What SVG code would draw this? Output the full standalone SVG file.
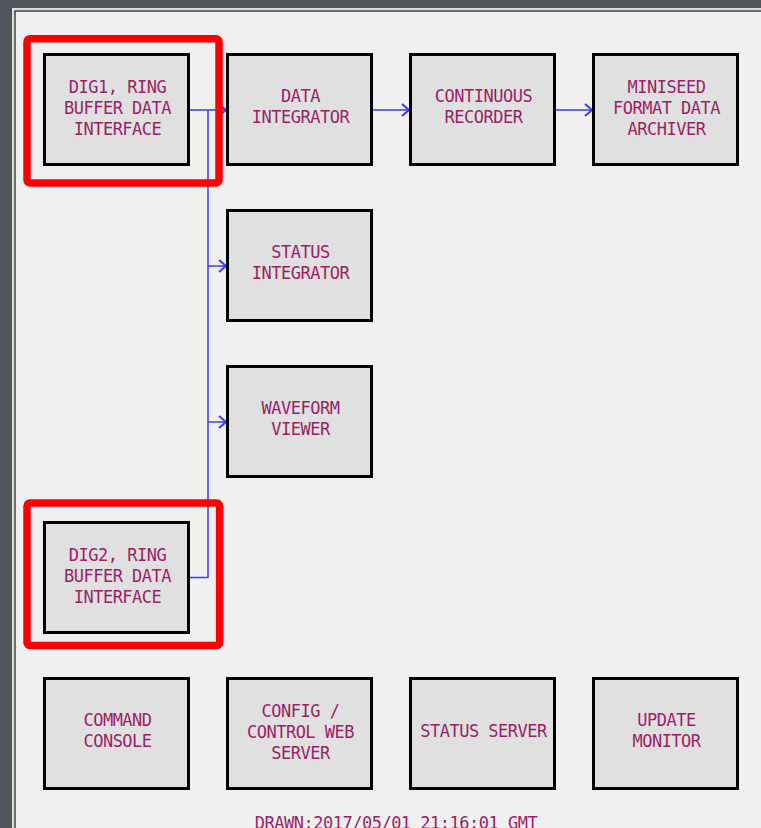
<svg xmlns="http://www.w3.org/2000/svg" width="761" height="828" viewBox="0 0 761 828">
<defs>
<style>
.box rect{fill:#e0e0e0;stroke:#000;stroke-width:3}
.box text,.stamp{font-family:"DejaVu Sans Mono","Liberation Mono",monospace;font-size:17px;letter-spacing:-0.5px;fill:#9b1f66;text-anchor:middle}
.hl{fill:none;stroke:#ff0000;stroke-width:7.5}
.conn path{fill:none;stroke:#3a3aff;stroke-width:1.5}
</style>
<marker id="arr" viewBox="0 0 10 14" refX="9" refY="7" markerWidth="10" markerHeight="14" markerUnits="userSpaceOnUse" orient="auto">
<path d="M2,1 L9,7 L2,13" fill="none" stroke="#3a3aff" stroke-width="2"/>
</marker>
</defs>
<rect x="0" y="0" width="761" height="828" fill="#50555e"/>
<rect x="12" y="8" width="749" height="820" fill="#dcdcdc"/>
<rect x="14" y="10" width="747" height="818" fill="#f0f0f0"/>
<path d="M15,828 V11 H761" fill="none" stroke="#404040" stroke-width="1.5"/>

<g class="conn">
<path d="M190,110 H226" marker-end="url(#arr)"/>
<path d="M208,110 V577.5 H190"/>
<path d="M208,266 H226" marker-end="url(#arr)"/>
<path d="M208,422 H226" marker-end="url(#arr)"/>
<path d="M373,110 H409" marker-end="url(#arr)"/>
<path d="M556,110 H592" marker-end="url(#arr)"/>
</g>

<g id="dig1" class="box"><rect x="44.5" y="54.5" width="144" height="110"/>
<text x="117.5" y="92.5">DIG1, RING</text><text x="117.5" y="113.5">BUFFER DATA</text><text x="117.5" y="134.5">INTERFACE</text></g>
<g id="data-integrator" class="box"><rect x="227.5" y="54.5" width="144" height="110"/>
<text x="300.5" y="102.3">DATA</text><text x="300.5" y="123.3">INTEGRATOR</text></g>
<g id="continuous-recorder" class="box"><rect x="410.5" y="54.5" width="144" height="110"/>
<text x="483.5" y="102.3">CONTINUOUS</text><text x="483.5" y="123.3">RECORDER</text></g>
<g id="miniseed-archiver" class="box"><rect x="593.5" y="54.5" width="144" height="110"/>
<text x="666.5" y="92.5">MINISEED</text><text x="666.5" y="113.5">FORMAT DATA</text><text x="666.5" y="134.5">ARCHIVER</text></g>
<g id="status-integrator" class="box"><rect x="227.5" y="210.5" width="144" height="110"/>
<text x="300.5" y="258.3">STATUS</text><text x="300.5" y="279.3">INTEGRATOR</text></g>
<g id="waveform-viewer" class="box"><rect x="227.5" y="366.5" width="144" height="110"/>
<text x="300.5" y="414.3">WAVEFORM</text><text x="300.5" y="435.3">VIEWER</text></g>
<g id="dig2" class="box"><rect x="44.5" y="522.5" width="144" height="110"/>
<text x="117.5" y="560.5">DIG2, RING</text><text x="117.5" y="581.5">BUFFER DATA</text><text x="117.5" y="602.5">INTERFACE</text></g>
<g id="command-console" class="box"><rect x="44.5" y="678.5" width="144" height="110"/>
<text x="117.5" y="726.3">COMMAND</text><text x="117.5" y="747.3">CONSOLE</text></g>
<g id="config-web-server" class="box"><rect x="227.5" y="678.5" width="144" height="110"/>
<text x="300.5" y="716.5">CONFIG /</text><text x="300.5" y="737.5">CONTROL WEB</text><text x="300.5" y="758.5">SERVER</text></g>
<g id="status-server" class="box"><rect x="410.5" y="678.5" width="144" height="110"/>
<text x="483.5" y="737.3">STATUS SERVER</text></g>
<g id="update-monitor" class="box"><rect x="593.5" y="678.5" width="144" height="110"/>
<text x="666.5" y="726.3">UPDATE</text><text x="666.5" y="747.3">MONITOR</text></g>

<g id="highlights">
<rect class="hl" x="27" y="38.8" width="192" height="144.2" rx="3"/>
<rect class="hl" x="27" y="503" width="192.7" height="142.5" rx="3"/>
</g>

<text class="stamp" x="396" y="829">DRAWN:2017/05/01 21:16:01 GMT</text>
</svg>
